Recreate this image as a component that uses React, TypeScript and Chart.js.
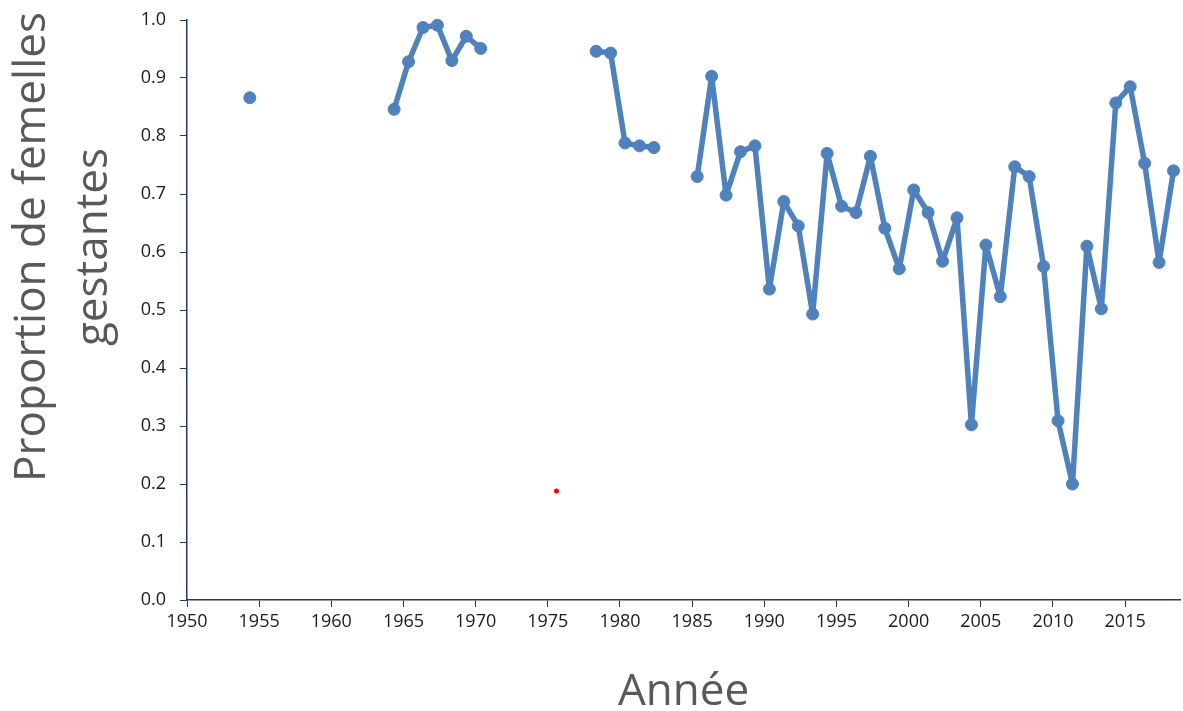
import React, { useEffect, useRef } from 'react';
import { Chart, registerables } from 'chart.js';

Chart.register(...registerables);

// Observed years and proportion of pregnant females
const years = [
  1954,
  1964, 1965, 1966, 1967, 1968, 1969, 1970,
  1978, 1979, 1980, 1981, 1982,
  1985, 1986, 1987, 1988, 1989, 1990, 1991, 1992, 1993, 1994, 1995, 1996, 1997, 1998, 1999,
  2000, 2001, 2002, 2003, 2004, 2005, 2006, 2007, 2008, 2009, 2010, 2011, 2012, 2013, 2014,
  2015, 2016, 2017, 2018,
];
const proportions = [
  0.866,
  0.846, 0.928, 0.987, 0.991, 0.930, 0.972, 0.951,
  0.946, 0.943, 0.788, 0.783, 0.780,
  0.730, 0.903, 0.698, 0.773, 0.783, 0.536, 0.687, 0.645, 0.493, 0.770, 0.679, 0.668, 0.765, 0.641, 0.571,
  0.707, 0.668, 0.584, 0.659, 0.302, 0.612, 0.523, 0.747, 0.730, 0.575, 0.309, 0.200, 0.610, 0.502, 0.857,
  0.885, 0.753, 0.582, 0.740,
];
// Isolated red marker
const outlierYears = [1975.25];
const outlierValues = [0.188];

const xTickLabels = [1950, 1955, 1960, 1965, 1970, 1975, 1980, 1985, 1990, 1995, 2000, 2005, 2010, 2015];
const yTickLabels = [0, 0.1, 0.2, 0.3, 0.4, 0.5, 0.6, 0.7, 0.8, 0.9, 1.0];

const xTitle = 'Année';
const yTitleLines = ['Proportion de femelles', 'gestantes'];

const X_OFFSET = 0.35; // points sit part-way through each year on the date axis
const AXIS_COLOR = '#1F3864';
const LINE_COLOR = '#4F81BD';
const TITLE_COLOR = '#595959';

export default function App() {
  const canvasRef = useRef<HTMLCanvasElement | null>(null);

  useEffect(() => {
    document.body.style.margin = '0';
    const canvas = canvasRef.current;
    if (!canvas) return;

    const lineData: { x: number; y: number | null }[] = [];
    years.forEach((yr, i) => {
      if (i > 0 && yr - years[i - 1] > 1) {
        lineData.push({ x: yr - 0.5 + X_OFFSET, y: null });
      }
      lineData.push({ x: yr + X_OFFSET, y: proportions[i] });
    });
    const outlierData = outlierYears.map((yr, i) => ({ x: yr + X_OFFSET, y: outlierValues[i] }));

    const titlesPlugin = {
      id: 'axisTitles',
      afterDraw(chart: any) {
        const ctx = chart.ctx;
        const area = chart.chartArea;
        ctx.save();
        ctx.fillStyle = TITLE_COLOR;
        ctx.font = '44px "Open Sans"';
        ctx.textAlign = 'center';
        ctx.textBaseline = 'alphabetic';
        ctx.fillText(xTitle, (area.left + area.right) / 2, 705);
        ctx.translate(45, 247);
        ctx.rotate(-Math.PI / 2);
        yTitleLines.forEach((line, i) => ctx.fillText(line, 0, i * 62));
        ctx.restore();
      },
    };

    const tickFont = { family: '"Open Sans"', size: 18 };

    const chart = new Chart(canvas, {
      type: 'line',
      data: {
        datasets: [
          {
            data: lineData,
            borderColor: LINE_COLOR,
            backgroundColor: LINE_COLOR,
            borderWidth: 5.5,
            borderJoinStyle: 'round',
            borderCapStyle: 'round',
            pointRadius: 6,
            pointBorderWidth: 1,
            pointBackgroundColor: LINE_COLOR,
            pointBorderColor: LINE_COLOR,
            spanGaps: false,
            tension: 0,
            clip: false,
          },
          {
            data: outlierData,
            showLine: false,
            borderColor: '#FF0000',
            backgroundColor: '#FF0000',
            pointRadius: 2.5,
            pointBorderWidth: 0,
          },
        ],
      },
      options: {
        animation: false,
        responsive: true,
        maintainAspectRatio: false,
        layout: { autoPadding: false, padding: { left: 0, right: 3, top: 20, bottom: 0 } },
        plugins: {
          legend: { display: false },
          tooltip: { enabled: false },
        },
        scales: {
          x: {
            type: 'linear',
            min: 1950,
            max: 2018.8,
            afterBuildTicks: (scale: any) => {
              scale.ticks = xTickLabels.map((v) => ({ value: v }));
            },
            afterFit: (scale: any) => {
              scale.height = 111;
              scale.paddingLeft = 0;
              scale.paddingRight = 0;
            },
            ticks: {
              autoSkip: false,
              maxRotation: 0,
              minRotation: 0,
              padding: 4,
              color: '#1a1a1a',
              font: tickFont,
              callback: (v: any) => String(v),
            },
            grid: {
              display: true,
              drawOnChartArea: false,
              drawTicks: true,
              tickLength: 7,
              color: AXIS_COLOR,
              lineWidth: 1,
            },
            border: { display: true, color: AXIS_COLOR, width: 1.5 },
          },
          y: {
            type: 'linear',
            min: 0,
            max: 1,
            afterBuildTicks: (scale: any) => {
              scale.ticks = yTickLabels.map((v) => ({ value: v }));
            },
            afterFit: (scale: any) => {
              scale.width = 187;
              scale.paddingTop = 0;
              scale.paddingBottom = 0;
            },
            ticks: {
              padding: 14,
              color: '#1a1a1a',
              font: tickFont,
              callback: (v: any) => Number(v).toFixed(1),
            },
            grid: {
              display: true,
              drawOnChartArea: false,
              drawTicks: true,
              tickLength: 7,
              color: AXIS_COLOR,
              lineWidth: 1,
            },
            border: { display: true, color: AXIS_COLOR, width: 1.5 },
          },
        },
      },
      plugins: [titlesPlugin],
    });

    return () => chart.destroy();
  }, []);

  return (
    <div style={{ position: 'relative', width: '1183px', height: '711px' }}>
      <canvas ref={canvasRef} />
    </div>
  );
}
